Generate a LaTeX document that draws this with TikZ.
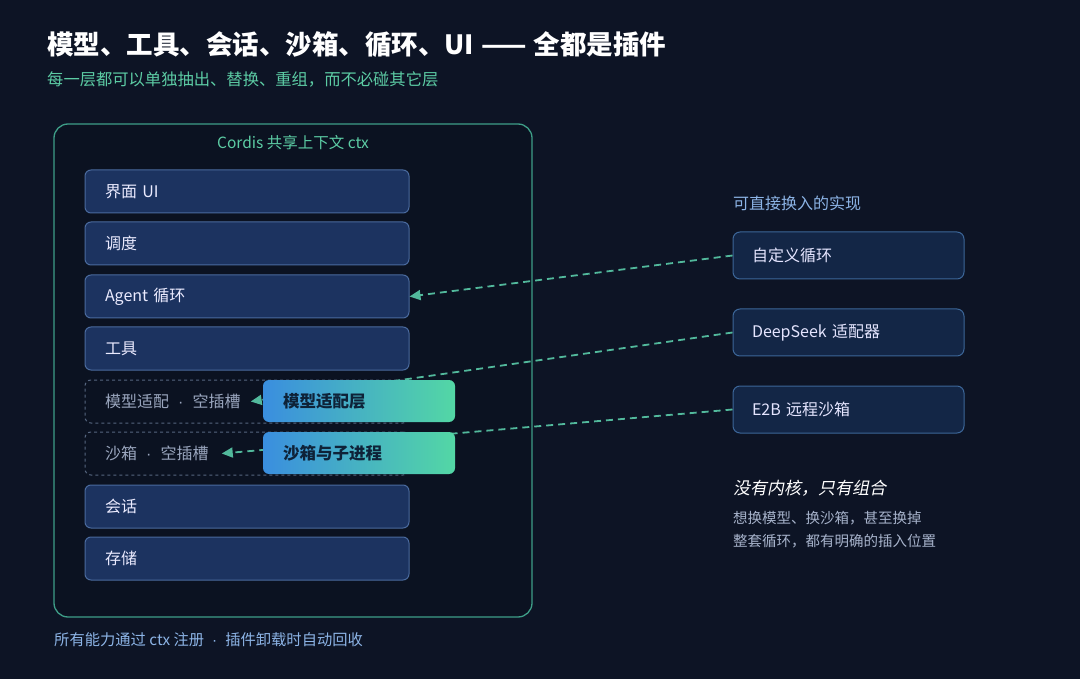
\documentclass[tikz,border=0pt]{standalone}
\usepackage{fontspec}
\setmainfont{Noto Sans CJK SC}
\newfontfamily\itcjk[FakeSlant=0.2]{Noto Sans CJK SC}
\newfontfamily\latinf{Liberation Sans}
\usetikzlibrary{arrows.meta,calc}
\definecolor{bg}{HTML}{0D1425}
\definecolor{framefill}{HTML}{0B1221}
\definecolor{frameline}{HTML}{3E9E88}
\definecolor{layerfill}{HTML}{1C3360}
\definecolor{layerline}{HTML}{4A6A9E}
\definecolor{slotline}{HTML}{55657F}
\definecolor{slottext}{HTML}{9AA6BE}
\definecolor{rightfill}{HTML}{132646}
\definecolor{rightline}{HTML}{3C6698}
\definecolor{teal}{HTML}{5CCCA4}
\definecolor{arrowc}{HTML}{52B99C}
\definecolor{lightblue}{HTML}{8CB4E6}
\definecolor{graytext}{HTML}{A7B3CB}
\definecolor{gradl}{HTML}{3A8EDF}
\definecolor{gradr}{HTML}{53D7A5}
\definecolor{darktext}{HTML}{0E2238}
\newcommand{\sepdot}[1]{\hspace{#1}{\latinf\textperiodcentered}\hspace{#1}}
\tikzset{
  layer/.style={draw=layerline, line width=1pt, fill=layerfill, rounded corners=6pt,
    minimum height=43pt, text width=284pt, inner xsep=20pt, align=left,
    text=white!92!blue, font=\fontsize{16}{18}\selectfont},
  slot/.style={draw=slotline, line width=1pt, dashed, rounded corners=6pt,
    minimum width=324pt, minimum height=43pt},
  slottxt/.style={anchor=west, inner sep=0pt, text=slottext, font=\fontsize{16}{18}\selectfont},
  rightbox/.style={draw=rightline, line width=1pt, fill=rightfill, rounded corners=7pt,
    minimum height=47pt, text width=193pt, inner xsep=19pt, align=left,
    text=white!90!blue, font=\fontsize{16}{18}\selectfont},
  gradbox/.style={rounded corners=6pt, left color=gradl, right color=gradr,
    minimum height=42pt, text width=152pt, inner xsep=20pt, align=left,
    text=darktext, font=\fontsize{16.5}{18}\selectfont\bfseries},
  swap/.style={draw=arrowc, line width=1.8pt, dash pattern=on 7pt off 5pt,
    -{Triangle[length=11pt,width=10pt]}},
  plain/.style={anchor=west, inner sep=0pt}
}
\begin{document}
\begin{tikzpicture}[x=1pt,y=-1pt]
\useasboundingbox (0,0) rectangle (1080,679);
\fill[bg] (0,0) rectangle (1080,679);

% title
\node[plain, text=white, font=\fontsize{26.5}{30}\selectfont\bfseries] (title) at (47,45) {模型、工具、会话、沙箱、循环、UI \hspace{1pt}——\hspace{1pt} 全都是插件};
\node[plain, text=teal, font=\fontsize{16.3}{18}\selectfont] (subtitle) at (47,79) {每一层都可以单独抽出、替换、重组，而不必碰其它层};

% frame
\draw[frameline, line width=1.3pt, fill=framefill, rounded corners=14pt] (54,124) rectangle (532,617);
\node[text=teal, font=\fontsize{15.5}{18}\selectfont, inner sep=0pt] (ctx) at (293,143) {Cordis 共享上下文 ctx};

% layers
\node[layer] (ui) at (247,191.5) {界面 UI};
\node[layer] (sched) at (247,243.5) {调度};
\node[layer] (agent) at (247,296.5) {Agent 循环};
\node[layer] (tools) at (247,348.5) {工具};
\node[slot] (slot1) at (247,401.5) {};
\node[slottxt] (slot1t) at (105,401.5) {模型适配\sepdot{9pt}空插槽};
\node[slot] (slot2) at (247,453.5) {};
\node[slottxt] (slot2t) at (105,453.5) {沙箱\sepdot{9pt}空插槽};
\node[layer] (session) at (247,506.5) {会话};
\node[layer] (store) at (247,558.5) {存储};

% right column
\node[plain, text=lightblue, font=\fontsize{16}{18}\selectfont] (rtitle) at (733,203) {可直接换入的实现};
\node[rightbox] (custom) at (848.5,255.5) {自定义循环};
\node[rightbox] (deepseek) at (848.5,332.5) {DeepSeek 适配器};
\node[rightbox] (e2b) at (848.5,409.5) {E2B 远程沙箱};

% arrows
\draw[swap] (custom.west) -- (agent.east);
\draw[swap] (deepseek.west) -- ([xshift=10pt]slot1t.east);
\draw[swap] (e2b.west) -- ([xshift=13pt]slot2t.east);

% gradient boxes
\node[gradbox] (model) at (359,401) {模型适配层};
\node[gradbox] (sandbox) at (359,453) {沙箱与子进程};

% notes
\node[plain, text=white, font=\fontsize{17}{20}\selectfont\itcjk] (note1) at (733,488) {没有内核，只有组合};
\node[plain, text=graytext, font=\fontsize{14.5}{17}\selectfont] (note2) at (733,518) {想换模型、换沙箱，甚至换掉};
\node[plain, text=graytext, font=\fontsize{14.5}{17}\selectfont] (note3) at (733,541) {整套循环，都有明确的插入位置};

\node[plain, text=lightblue, font=\fontsize{15.3}{18}\selectfont] (foot) at (54,640) {所有能力通过 ctx 注册\sepdot{8pt}插件卸载时自动回收};
\end{tikzpicture}
\end{document}
